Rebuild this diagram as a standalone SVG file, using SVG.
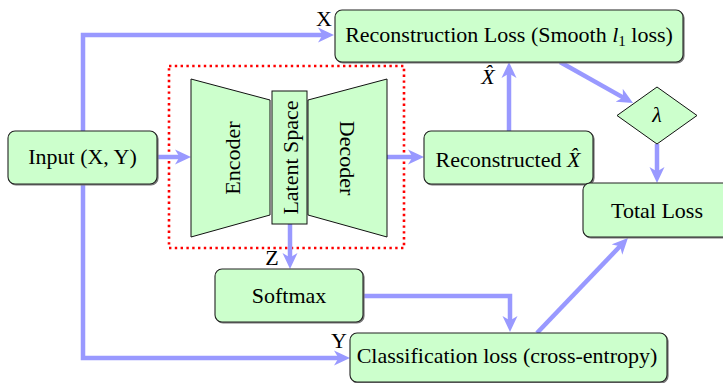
<svg xmlns="http://www.w3.org/2000/svg" width="723" height="383" viewBox="0 0 723 383">
  <style>
    .node { fill: #ccffcc; stroke: #222; stroke-width: 1.1; }
    .shadow { fill: #888; stroke: #777; stroke-width: 1.2; }
    .shape { fill: #ccffcc; stroke: #111; stroke-width: 1; }
    text { font-family: 'Liberation Serif', 'Times New Roman', Times, serif; font-size: 22px; fill: #000; text-anchor: middle; }
    .edge { fill: none; stroke: #9999ff; stroke-width: 4.5; stroke-linejoin: miter; }
    .it { font-style: italic; }
  </style>
  <defs>
    <marker id="arrow" markerUnits="userSpaceOnUse" markerWidth="17" markerHeight="16" viewBox="0 0 17 16" refX="10" refY="8" orient="auto">
      <path d="M0,0.5 L16,8 L0,15.5 L4.5,8 Z" fill="#9999ff"/>
    </marker>
  </defs>

  <rect width="723" height="383" fill="#ffffff"/>

  <!-- autoencoder frame -->
  <rect id="ae-frame" x="169" y="66" width="235" height="182" fill="none" stroke="#ff0000" stroke-width="2.6" stroke-dasharray="2.4 3.4"/>

  <g id="connectors">
    <path class="edge" d="M83,131 V35 H328" marker-end="url(#arrow)"/>
    <path class="edge" d="M83,184 V358 H344" marker-end="url(#arrow)"/>
    <path class="edge" d="M157,157 H185" marker-end="url(#arrow)"/>
    <path class="edge" d="M387,157 H418" marker-end="url(#arrow)"/>
    <path class="edge" d="M509,131 V68" marker-end="url(#arrow)"/>
    <path class="edge" d="M560,62 L627.8,100.1" marker-end="url(#arrow)"/>
    <path class="edge" d="M657,144 V177" marker-end="url(#arrow)"/>
    <path class="edge" d="M290,224 V263" marker-end="url(#arrow)"/>
    <path class="edge" d="M363,296 H510 V326" marker-end="url(#arrow)"/>
    <path class="edge" d="M537,333 L623.8,242.3" marker-end="url(#arrow)"/>
    <text x="324" y="26" font-family="Liberation Serif, serif">X</text>
    <text x="272" y="265" font-family="Liberation Serif, serif">Z</text>
    <text x="339" y="348" font-family="Liberation Serif, serif">Y</text>
    <text class="it" x="488" y="84" font-family="Liberation Serif, serif">X̂</text>
  </g>

  <g id="input">
    <rect class="shadow" x="9" y="132" width="149" height="53" rx="7"/>
    <rect class="node" x="8" y="131" width="149" height="53" rx="7"/>
    <text x="82.5" y="163.5" font-family="Liberation Serif, serif">Input (X, Y)</text>
  </g>

  <g id="encoder">
    <polygon class="shape" points="191,79 270,100 270,215 191,237"/>
    <text transform="translate(232,158) rotate(-90)" dominant-baseline="central" font-family="Liberation Serif, serif">Encoder</text>
  </g>

  <g id="latent">
    <rect class="shape" x="272" y="91" width="35" height="133"/>
    <text transform="translate(290,157.5) rotate(-90)" dominant-baseline="central" font-family="Liberation Serif, serif">Latent Space</text>
  </g>

  <g id="decoder">
    <polygon class="shape" points="308,100 387,79 387,237 308,215"/>
    <text transform="translate(347,158) rotate(90)" dominant-baseline="central" font-family="Liberation Serif, serif">Decoder</text>
  </g>

  <g id="recon-loss">
    <rect class="shadow" x="336" y="11" width="348" height="52" rx="7"/>
    <rect class="node" x="335" y="10" width="348" height="52" rx="7"/>
    <text x="509" y="42" font-family="Liberation Serif, serif">Reconstruction Loss (Smooth <tspan class="it">l</tspan><tspan font-size="15px" dy="4">1</tspan><tspan dy="-4"> loss)</tspan></text>
  </g>

  <g id="reconstructed">
    <rect class="shadow" x="425" y="132" width="169" height="53" rx="7"/>
    <rect class="node" x="424" y="131" width="169" height="53" rx="7"/>
    <text x="508" y="167" font-family="Liberation Serif, serif">Reconstructed <tspan class="it">X̂</tspan></text>
  </g>

  <g id="lambda">
    <polygon class="shape" points="657,87 697,115.5 657,144 617,115.5"/>
    <text class="it" x="657" y="122" font-family="Liberation Serif, serif">λ</text>
  </g>

  <g id="total-loss">
    <rect class="shadow" x="584" y="184" width="150" height="54" rx="7"/>
    <rect class="node" x="583" y="183" width="150" height="54" rx="7"/>
    <text x="657" y="218" font-family="Liberation Serif, serif">Total Loss</text>
  </g>

  <g id="softmax">
    <rect class="shadow" x="216" y="270" width="148" height="53" rx="7"/>
    <rect class="node" x="215" y="269" width="148" height="53" rx="7"/>
    <text x="289" y="303" font-family="Liberation Serif, serif">Softmax</text>
  </g>

  <g id="classification">
    <rect class="shadow" x="351" y="334" width="317" height="49" rx="7"/>
    <rect class="node" x="350" y="333" width="317" height="49" rx="7"/>
    <text x="507" y="363" font-family="Liberation Serif, serif">Classification loss (cross-entropy)</text>
  </g>
</svg>
